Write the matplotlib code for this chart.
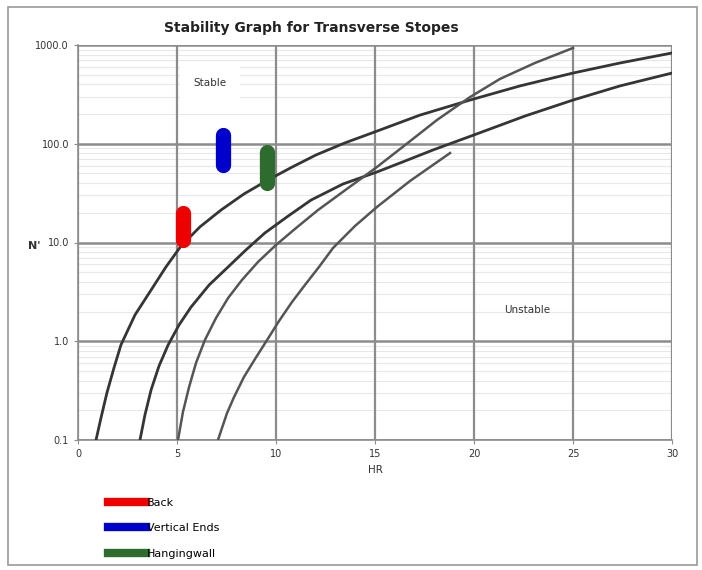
import matplotlib
matplotlib.use("Agg")
import matplotlib.pyplot as plt
from matplotlib.patches import Rectangle
from matplotlib.lines import Line2D
from matplotlib.ticker import FixedLocator

# ---- data ----
curve_a_hr = [0.91, 1.16, 1.46, 1.82, 2.17, 2.88, 3.69, 4.44, 5.20, 6.16, 7.22,
              8.38, 9.60, 10.81, 12.02, 13.48, 15.0, 17.27, 19.8, 22.32, 25.0,
              27.37, 30.0]
curve_a_n = [0.100, 0.167, 0.30, 0.54, 0.92, 1.85, 3.30, 5.65, 9.2, 14.4, 21.3,
             31.0, 43, 58, 77, 102, 132, 195, 277, 385, 520, 657, 830]

curve_b_hr = [3.13, 3.38, 3.69, 4.09, 4.55, 5.10, 5.71, 6.62, 7.58, 8.48, 9.44,
              10.61, 11.77, 13.38, 15.10, 16.52, 17.93, 20.15, 22.58, 25.0,
              27.37, 30.0]
curve_b_n = [0.100, 0.179, 0.321, 0.561, 0.916, 1.46, 2.22, 3.71, 5.65, 8.4,
             12.5, 18.5, 26.9, 39.1, 51.8, 66.9, 86.5, 126, 191, 277, 385, 520]

curve_c_hr = [5.05, 5.30, 5.61, 5.96, 6.41, 6.97, 7.58, 8.28, 9.09, 10.0, 11.01,
              12.12, 13.23, 14.34, 15.10, 16.52, 18.13, 19.80, 21.31, 23.08,
              25.0]
curve_c_n = [0.100, 0.192, 0.344, 0.603, 1.03, 1.72, 2.74, 4.17, 6.35, 9.44,
             14.0, 21.3, 31.0, 45.0, 58.2, 97, 174, 297, 453, 658, 933]

curve_d_hr = [7.07, 7.27, 7.53, 7.88, 8.38, 8.94, 9.55, 10.15, 10.81, 11.46,
              12.17, 12.88, 13.99, 15.10, 16.77, 18.79]
curve_d_n = [0.100, 0.132, 0.188, 0.272, 0.434, 0.661, 1.03, 1.60, 2.50, 3.71,
             5.65, 8.8, 14.7, 22.9, 42, 80.5]

series_names = ["Back", "Vertical Ends", "Hangingwall"]
series_hr = [5.3, 7.3, 9.55]
series_n_low = [10.5, 61, 40]
series_n_high = [20, 123, 83]
series_colors = ["#ee0000", "#0000cc", "#2e6b2e"]

x_ticks = [0, 5, 10, 15, 20, 25, 30]
y_ticks = [0.1, 1, 10, 100, 1000]
y_tick_labels = ["0.1", "1.0", "10.0", "100.0", "1000.0"]
y_minor = [m * 10.0 ** e for e in (-1, 0, 1, 2) for m in (2, 3, 4, 5, 6, 7, 8, 9)]

# ---- figure ----
fig = plt.figure(figsize=(7.02, 5.70), dpi=100)
fig.patch.set_facecolor("white")
fig.patches.append(Rectangle((8 / 702, 5 / 570), 689 / 702, 558 / 570,
                             transform=fig.transFigure, fill=False,
                             edgecolor="#9a9a9a", linewidth=1.2))

ax = fig.add_axes([78 / 702, 1 - 440 / 570, 594 / 702, 395 / 570])
ax.set_yscale("log")
ax.set_xlim(0, 30)
ax.set_ylim(0.1, 1000)

ax.yaxis.set_major_locator(FixedLocator(y_ticks))
ax.set_yticklabels(y_tick_labels)
ax.minorticks_off()
ax.set_xticks(x_ticks)
ax.set_xticklabels([str(v) for v in x_ticks])

for v in y_minor:
    ax.axhline(v, color="#e8e8e8", linewidth=0.8, zorder=0.5)
for v in y_ticks:
    ax.axhline(v, color="#8c8c8c", linewidth=1.8, zorder=1)
for v in x_ticks:
    ax.axvline(v, color="#8c8c8c", linewidth=1.6, zorder=1)

for s in ["top", "right"]:
    ax.spines[s].set_visible(False)
for s in ["left", "bottom"]:
    ax.spines[s].set_color("#8c8c8c")
    ax.spines[s].set_linewidth(1.2)
ax.tick_params(axis="both", which="both", length=3, color="#8c8c8c",
               labelsize=7, labelcolor="#333333")

ax.plot(curve_a_hr, curve_a_n, color="#353535", linewidth=2.0, zorder=3)
ax.plot(curve_b_hr, curve_b_n, color="#353535", linewidth=2.0, zorder=3)
ax.plot(curve_c_hr, curve_c_n, color="#555555", linewidth=1.8, zorder=3)
ax.plot(curve_d_hr, curve_d_n, color="#555555", linewidth=1.8, zorder=3)

handles = []
for name, hx, lo, hi, col in zip(series_names, series_hr, series_n_low,
                                  series_n_high, series_colors):
    ax.plot([hx, hx], [lo, hi], color=col, linewidth=11,
            solid_capstyle="round", zorder=4)
    handles.append(Line2D([0], [0], color=col, linewidth=6, label=name))

ax.text(6.67, 410, "Stable", fontsize=7.5, color="#333333",
        ha="center", va="center", zorder=5,
        bbox=dict(facecolor="white", edgecolor="none", pad=10))
ax.text(22.7, 2.07, "Unstable", fontsize=7.5, color="#333333",
        ha="center", va="center", zorder=5)

ax.set_xlabel("HR", fontsize=7.5, color="#333333", labelpad=4)
fig.text(34 / 702, 1 - 246 / 570, "N'", fontsize=8, fontweight="bold",
         color="#333333", ha="center", va="center")

fig.text(311 / 702, 1 - 28 / 570, "Stability Graph for Transverse Stopes",
         fontsize=10, fontweight="bold", color="#222222",
         ha="center", va="center")

fig.legend(handles=handles, loc="upper left",
           bbox_to_anchor=(100 / 702, 1 - 490 / 570), frameon=False,
           fontsize=8, handlelength=3.4, handletextpad=0.1,
           labelspacing=1.4, borderpad=0.2)

fig.savefig("out.png", dpi=100, facecolor="white")
